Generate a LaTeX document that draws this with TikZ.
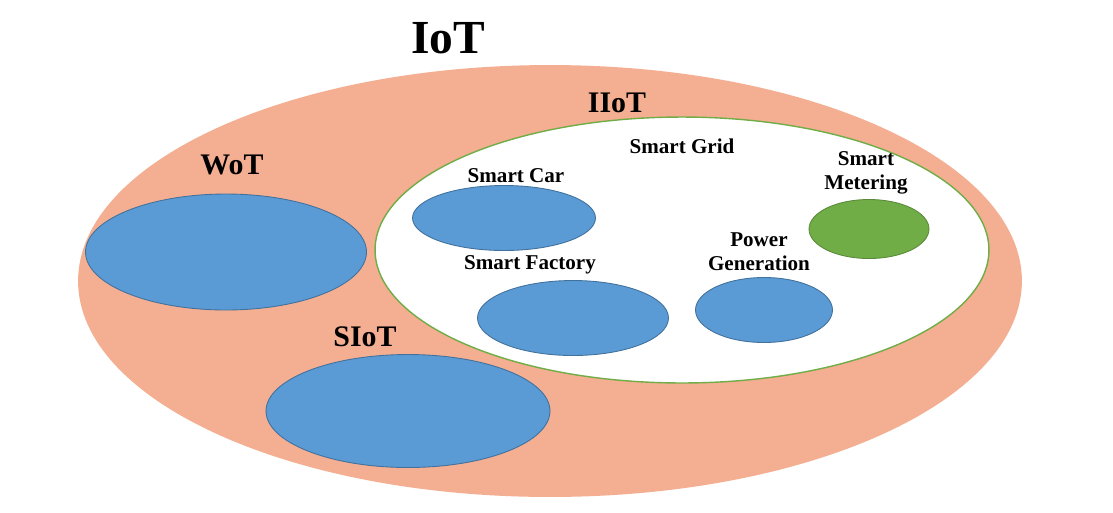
\documentclass[tikz,border=0pt]{standalone}
\usepackage{fontspec}
\setmainfont{Liberation Serif}
\usetikzlibrary{%
  shapes,%
  shapes.geometric,% wg. ellipse
  positioning%
}
\definecolor{salmon}{RGB}{244,174,146}
\definecolor{blobblue}{RGB}{91,155,213}
\definecolor{blobedge}{RGB}{65,113,156}
\definecolor{metergreen}{RGB}{112,173,71}

\begin{document}
\begin{tikzpicture}[
  x=0.02cm, y=-0.02cm,
  font=\bfseries,
  blob/.style={ellipse, draw=blobedge, fill=blobblue, inner sep=0pt, line width=0.5pt},
  title/.style={font=\bfseries\fontsize{17}{17}\selectfont},
  lbl/.style={font=\bfseries\fontsize{12}{13.5}\selectfont, align=center}]

\useasboundingbox (0,0) rectangle (1113,512);

% outer sets
\node[ellipse, fill=salmon, minimum width=18.88cm, minimum height=8.64cm] (iot) at (550,281) {};
\node[ellipse, fill=white, draw=metergreen, line width=0.8pt, minimum width=12.28cm, minimum height=5.32cm] (iiot) at (682,250) {};

% blobs
\node[blob, minimum width=5.62cm, minimum height=2.32cm] (wot) at (226,252) {};
\node[blob, minimum width=5.68cm, minimum height=2.26cm] (siot) at (408,411) {};
\node[blob, minimum width=3.66cm, minimum height=1.30cm] (car) at (504,218) {};
\node[blob, minimum width=3.82cm, minimum height=1.50cm] (factory) at (573,318) {};
\node[blob, minimum width=2.74cm, minimum height=1.30cm] (power) at (764,310) {};
\node[blob, draw=metergreen!80!black, fill=metergreen, minimum width=2.40cm, minimum height=1.18cm] (meter) at (869,229) {};

% labels
\node[font=\bfseries\fontsize{27}{27}\selectfont] (iotlbl) at (448,38) {IoT};
\node[title] (iiotlbl) at (617,103) {IIoT};
\node[title] (wotlbl) at (232,165) {WoT};
\node[title] (siotlbl) at (365,337) {SIoT};
\node[lbl] (gridlbl) at (682,146) {Smart Grid};
\node[lbl] (carlbl) at (516,176) {Smart Car};
\node[lbl] (factorylbl) at (530,265) {Smart Factory};
\node[lbl] (powerlbl) at (759,252) {Power\\Generation};
\node[lbl] (meterlbl) at (866,173) {Smart\\Metering};

\end{tikzpicture}
\end{document}
